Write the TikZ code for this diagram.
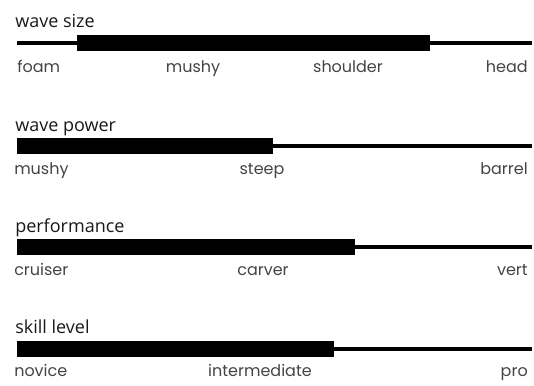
\documentclass[tikz,border=0pt]{standalone}
\usepackage{fontspec}
\newfontfamily\titlefont{Open Sans}
\newfontfamily\gradefont{Poppins}
\definecolor{gradegray}{HTML}{444444}
\tikzset{
  title/.style={anchor=base west, inner sep=0pt, font=\titlefont\fontsize{13.5}{15}\selectfont, text=black!90},
  grade/.style={inner sep=0pt, font=\gradefont\fontsize{12}{14}\selectfont, text=gradegray},
  thinline/.style={line width=2.6pt},
  bar/.style={fill=black, draw=none}
}
\begin{document}
\begin{tikzpicture}[x=0.75pt, y=-0.75pt]
\useasboundingbox (0,0) rectangle (534,385);
% wave size
\node (sizetitle) at (15,28) [title] {wave size};
\coordinate (sizeL) at (17,43);
\coordinate (sizeR) at (532,43);
\draw [thinline] (sizeL) -- (sizeR);
\draw [bar] (77,35.5) rectangle (430,51.5);
\node (foam) at (17,72) [grade, anchor=base west] {foam};
\node (mushyA) at (193,72) [grade, anchor=base] {mushy};
\node (shoulder) at (348,72) [grade, anchor=base] {shoulder};
\node (head) at (528,72) [grade, anchor=base east] {head};
% wave power
\node (powertitle) at (15,131) [title] {wave power};
\coordinate (powerL) at (17,146);
\coordinate (powerR) at (532,146);
\draw [thinline] (powerL) -- (powerR);
\draw [bar] (17,138) rectangle (273,154);
\node (mushyB) at (14,174) [grade, anchor=base west] {mushy};
\node (steep) at (262,174) [grade, anchor=base] {steep};
\node (barrel) at (528,174) [grade, anchor=base east] {barrel};
% performance
\node (perftitle) at (15,232) [title] {performance};
\coordinate (perfL) at (17,247);
\coordinate (perfR) at (532,247);
\draw [thinline] (perfL) -- (perfR);
\draw [bar] (17,239) rectangle (355,255);
\node (cruiser) at (14,275) [grade, anchor=base west] {cruiser};
\node (carver) at (263,275) [grade, anchor=base] {carver};
\node (vert) at (528,275) [grade, anchor=base east] {vert};
% skill level
\node (skilltitle) at (15,333) [title] {skill level};
\coordinate (skillL) at (17,349);
\coordinate (skillR) at (532,349);
\draw [thinline] (skillL) -- (skillR);
\draw [bar] (17,341) rectangle (334,357);
\node (novice) at (14,376) [grade, anchor=base west] {novice};
\node (intermediate) at (260,376) [grade, anchor=base] {intermediate};
\node (pro) at (528,376) [grade, anchor=base east] {pro};
\end{tikzpicture}
\end{document}
